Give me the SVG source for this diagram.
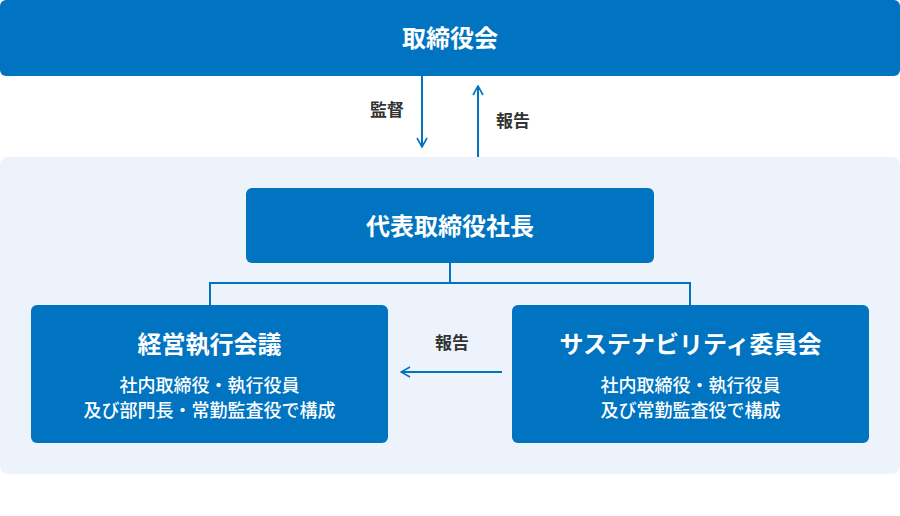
<svg xmlns="http://www.w3.org/2000/svg" width="900" height="516" viewBox="0 0 900 516">
<defs>
<style>
.box{fill:#0074C1;}
.t{font-family:"Noto Sans CJK JP","Noto Sans",sans-serif;fill:#fff;text-anchor:middle;}
.h{font-size:24px;font-weight:700;}
.s{font-size:18px;font-weight:500;}
.lbl{font-family:"Noto Sans CJK JP","Noto Sans",sans-serif;font-size:17px;font-weight:700;fill:#333;text-anchor:middle;}
.ln{stroke:#0074C1;stroke-width:2;fill:none;}
</style>
<marker id="ah" viewBox="0 0 12 12" refX="11" refY="6" markerWidth="12" markerHeight="12" markerUnits="userSpaceOnUse" orient="auto">
<path d="M2,1 L11,6 L2,11" fill="none" stroke="#0074C1" stroke-width="1.6"/>
</marker>
</defs>
<rect x="0" y="157" width="900" height="317" rx="8" fill="#EDF3FA"/>
<g id="board">
<rect class="box" x="0" y="0" width="900" height="76" rx="6"/>
<text class="t h" x="450" y="47">取締役会</text>
</g>
<g id="president">
<rect class="box" x="246" y="188" width="408" height="75" rx="6"/>
<text class="t h" x="450" y="235">代表取締役社長</text>
</g>
<g id="exec">
<rect class="box" x="31" y="305" width="357" height="138" rx="6"/>
<text class="t h" x="209.5" y="353">経営執行会議</text>
<text class="t s" x="209.5" y="392">社内取締役・執行役員</text>
<text class="t s" x="209.5" y="417">及び部門長・常勤監査役で構成</text>
</g>
<g id="sustainability">
<rect class="box" x="512" y="305" width="357" height="138" rx="6"/>
<text class="t h" x="690.5" y="353">サステナビリティ委員会</text>
<text class="t s" x="690.5" y="392">社内取締役・執行役員</text>
<text class="t s" x="690.5" y="417">及び常勤監査役で構成</text>
</g>
<g id="connectors">
<line class="ln" x1="422" y1="76" x2="422" y2="147" marker-end="url(#ah)"/>
<line class="ln" x1="478" y1="157" x2="478" y2="86" marker-end="url(#ah)"/>
<polyline class="ln" points="450,263 450,283 210,283 210,305"/>
<polyline class="ln" points="450,283 690,283 690,305"/>
<line class="ln" x1="502" y1="372" x2="401" y2="372" marker-end="url(#ah)"/>
<text class="lbl" x="387" y="116">監督</text>
<text class="lbl" x="513" y="127">報告</text>
<text class="lbl" x="452" y="349">報告</text>
</g>
</svg>
